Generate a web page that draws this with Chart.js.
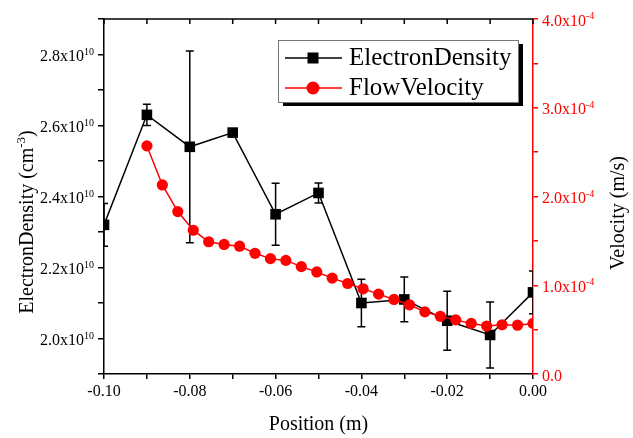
<!DOCTYPE html>
<html><head><meta charset="utf-8">
<script src="https://cdn.jsdelivr.net/npm/chart.js@4.4.1/dist/chart.umd.min.js"></script>
<style>html,body{margin:0;padding:0;background:#fff;}canvas{display:block;}</style>
</head><body>
<canvas id="c" width="633" height="438"></canvas>
<script>
// ---- data ----
const densityPositions = [-0.10, -0.09, -0.08, -0.07, -0.06, -0.05, -0.04, -0.03, -0.02, -0.01, 0.00];
const densityValues = [2.32e10, 2.63e10, 2.54e10, 2.58e10, 2.35e10, 2.41e10, 2.10e10, 2.11e10, 2.05e10, 2.01e10, 2.13e10];
const densityErrors = [0.06e10, 0.03e10, 0.27e10, 0.01e10, 0.087e10, 0.028e10, 0.067e10, 0.063e10, 0.083e10, 0.093e10, 0.06e10];

const velocityPositions = [-0.0900, -0.0864, -0.0828, -0.0792, -0.0756, -0.0720, -0.0684, -0.0648, -0.0612,
  -0.0576, -0.0540, -0.0504, -0.0468, -0.0432, -0.0396, -0.0360, -0.0324, -0.0288, -0.0252, -0.0216,
  -0.0180, -0.0144, -0.0108, -0.0072, -0.0036, 0.0000];
const velocityValues = [2.57e-4, 2.13e-4, 1.83e-4, 1.62e-4, 1.49e-4, 1.46e-4, 1.44e-4, 1.36e-4, 1.30e-4,
  1.28e-4, 1.21e-4, 1.15e-4, 1.08e-4, 1.02e-4, 0.96e-4, 0.90e-4, 0.84e-4, 0.78e-4, 0.70e-4, 0.65e-4,
  0.61e-4, 0.57e-4, 0.54e-4, 0.555e-4, 0.55e-4, 0.57e-4];

const seriesNames = ['ElectronDensity', 'FlowVelocity'];
const xLabelTicks = [-0.10, -0.08, -0.06, -0.04, -0.02, 0.00];
const densityLabelTicks = [2.0e10, 2.2e10, 2.4e10, 2.6e10, 2.8e10];
const densityTickLabels = [['2.0x10', '10'], ['2.2x10', '10'], ['2.4x10', '10'], ['2.6x10', '10'], ['2.8x10', '10']];
const velocityLabelTicks = [0, 1e-4, 2e-4, 3e-4, 4e-4];
const velocityTickLabels = [['0.0', ''], ['1.0x10', '-4'], ['2.0x10', '-4'], ['3.0x10', '-4'], ['4.0x10', '-4']];
const xTitle = 'Position (m)';
const leftTitle = ['ElectronDensity (cm', '-3', ')'];
const rightTitle = 'Velocity (m/s)';

// ---- drawing ----
const FONT = "'Liberation Serif', 'Times New Roman', serif";
const RED = '#ff0000';

function pick(list, v, tol, fmt) {
  const m = list.find(t => Math.abs(t - v) < tol);
  return m === undefined ? '' : fmt(m);
}

// draws [main, sup, tail] pieces starting at x (left aligned), baseline y
function drawSupText(ctx, parts, x, y, mainSize, supSize, rise) {
  let cx = x;
  parts.forEach((p, i) => {
    if (!p) return;
    const isSup = i === 1;
    ctx.font = (isSup ? supSize : mainSize) + 'px ' + FONT;
    ctx.fillText(p, cx, isSup ? y - rise : y);
    cx += ctx.measureText(p).width;
  });
  return cx - x;
}
function supWidth(ctx, parts, mainSize, supSize) {
  let w = 0;
  parts.forEach((p, i) => {
    if (!p) return;
    ctx.font = (i === 1 ? supSize : mainSize) + 'px ' + FONT;
    w += ctx.measureText(p).width;
  });
  return w;
}

const extrasPlugin = {
  id: 'extras',
  beforeDatasetsDraw(chart) {
    const {ctx, chartArea: a, scales} = chart;
    ctx.save();
    ctx.beginPath();
    ctx.rect(a.left, a.top, a.right - a.left, a.bottom - a.top);
    ctx.clip();
    ctx.strokeStyle = '#000';
    ctx.lineWidth = 1.5;
    densityPositions.forEach((p, i) => {
      const px = scales.x.getPixelForValue(p);
      const yt = scales.y.getPixelForValue(densityValues[i] + densityErrors[i]);
      const yb = scales.y.getPixelForValue(densityValues[i] - densityErrors[i]);
      ctx.beginPath();
      ctx.moveTo(px, yt); ctx.lineTo(px, yb);
      ctx.moveTo(px - 4, yt); ctx.lineTo(px + 4, yt);
      ctx.moveTo(px - 4, yb); ctx.lineTo(px + 4, yb);
      ctx.stroke();
    });
    ctx.restore();
  },
  afterDraw(chart) {
    const {ctx, chartArea: a, scales} = chart;
    ctx.save();
    // top axis with inward ticks
    ctx.strokeStyle = '#000';
    ctx.lineWidth = 1.5;
    ctx.beginPath();
    ctx.moveTo(a.left, a.top); ctx.lineTo(a.right, a.top);
    scales.x.ticks.forEach(t => {
      const px = scales.x.getPixelForValue(t.value);
      ctx.moveTo(px, a.top); ctx.lineTo(px, a.top + 5);
    });
    ctx.stroke();

    // y tick labels with real superscripts
    ctx.textBaseline = 'alphabetic';
    ctx.textAlign = 'left';
    ctx.fillStyle = '#000';
    densityLabelTicks.forEach((v, i) => {
      const py = scales.y.getPixelForValue(v);
      const parts = densityTickLabels[i];
      const w = supWidth(ctx, parts, 16, 10);
      drawSupText(ctx, parts, a.left - 10 - w, py + 6.5, 16, 10, 6.5);
    });
    ctx.fillStyle = RED;
    velocityLabelTicks.forEach((v, i) => {
      const py = scales.y1.getPixelForValue(v);
      drawSupText(ctx, velocityTickLabels[i], a.right + 9, py + 6.5, 16, 10, 6.5);
    });

    // rotated y titles
    ctx.fillStyle = '#000';
    ctx.save();
    ctx.translate(33, 222);
    ctx.rotate(-Math.PI / 2);
    const lw = supWidth(ctx, leftTitle, 20, 13);
    drawSupText(ctx, leftTitle, -lw / 2, 0, 20, 13, 8);
    ctx.restore();
    ctx.save();
    ctx.translate(624, 213);
    ctx.rotate(-Math.PI / 2);
    ctx.font = '20px ' + FONT;
    ctx.textAlign = 'center';
    ctx.fillText(rightTitle, 0, 0);
    ctx.restore();

    // legend box with shadow
    const bx = 278, by = 40, bw = 240, bh = 62;
    ctx.fillStyle = '#000';
    ctx.fillRect(bx + 5, by + 4, bw, bh);
    ctx.fillStyle = '#fff';
    ctx.fillRect(bx, by, bw, bh);
    ctx.strokeStyle = '#777';
    ctx.lineWidth = 1;
    ctx.strokeRect(bx + 0.5, by + 0.5, bw, bh);

    const rows = [58, 88];
    chart.data.datasets.forEach((ds, i) => {
      const cy = rows[i];
      ctx.strokeStyle = ds.borderColor;
      ctx.lineWidth = 1.5;
      ctx.beginPath();
      ctx.moveTo(285, cy); ctx.lineTo(342, cy);
      ctx.stroke();
      ctx.fillStyle = ds.backgroundColor;
      if (ds.pointStyle === 'rect') {
        ctx.fillRect(313 - 5.5, cy - 5.5, 11, 11);
      } else {
        ctx.beginPath();
        ctx.arc(313, cy, 6.5, 0, Math.PI * 2);
        ctx.fill();
      }
      ctx.fillStyle = '#000';
      ctx.font = '25px ' + FONT;
      ctx.textAlign = 'left';
      ctx.textBaseline = 'alphabetic';
      ctx.fillText(ds.label, 349, cy + 6.5);
    });
    ctx.restore();
  }
};

new Chart(document.getElementById('c'), {
  type: 'line',
  data: {
    datasets: [
      {
        label: seriesNames[0],
        data: densityPositions.map((x, i) => ({x, y: densityValues[i]})),
        yAxisID: 'y',
        borderColor: '#000',
        backgroundColor: '#000',
        borderWidth: 1.5,
        pointStyle: 'rect',
        pointRadius: 7.5,
        pointBorderWidth: 0,
        tension: 0,
        order: 1,
        clip: 0
      },
      {
        label: seriesNames[1],
        data: velocityPositions.map((x, i) => ({x, y: velocityValues[i]})),
        yAxisID: 'y1',
        borderColor: RED,
        backgroundColor: RED,
        borderWidth: 1.5,
        pointStyle: 'circle',
        pointRadius: 5.6,
        pointBorderWidth: 0,
        tension: 0,
        order: 0,
        clip: 0
      }
    ]
  },
  options: {
    responsive: false,
    animation: false,
    layout: {padding: {top: 19, left: 0, right: 0, bottom: 0}},
    plugins: {legend: {display: false}, tooltip: {enabled: false}},
    scales: {
      x: {
        type: 'linear', min: -0.1, max: 0,
        afterFit(s) { s.height = 64; },
        ticks: {
          stepSize: 0.01, autoSkip: false, maxRotation: 0, color: '#000', padding: 3,
          font: {family: FONT, size: 16},
          callback: v => pick(xLabelTicks, v, 1e-4, m => m.toFixed(2))
        },
        grid: {drawOnChartArea: false, drawTicks: true, tickLength: 5, color: '#000', lineWidth: 1.5},
        border: {color: '#000', width: 1.5},
        title: {display: true, text: xTitle, color: '#000', font: {family: FONT, size: 20}, padding: {top: 0, bottom: 1}}
      },
      y: {
        type: 'linear', position: 'left', min: 1.9e10, max: 2.9e10,
        afterFit(s) { s.width = 104; },
        ticks: {stepSize: 0.1e10, autoSkip: false, display: false},
        grid: {drawOnChartArea: false, drawTicks: true, tickLength: 6, color: '#000', lineWidth: 1.5},
        border: {color: '#000', width: 1.5}
      },
      y1: {
        type: 'linear', position: 'right', min: 0, max: 4e-4,
        afterFit(s) { s.width = 100; },
        ticks: {stepSize: 0.5e-4, autoSkip: false, display: false},
        grid: {drawOnChartArea: false, drawTicks: true, tickLength: 5, color: RED, lineWidth: 1.5},
        border: {color: RED, width: 1.5}
      }
    }
  },
  plugins: [extrasPlugin]
});
</script>
</body></html>
